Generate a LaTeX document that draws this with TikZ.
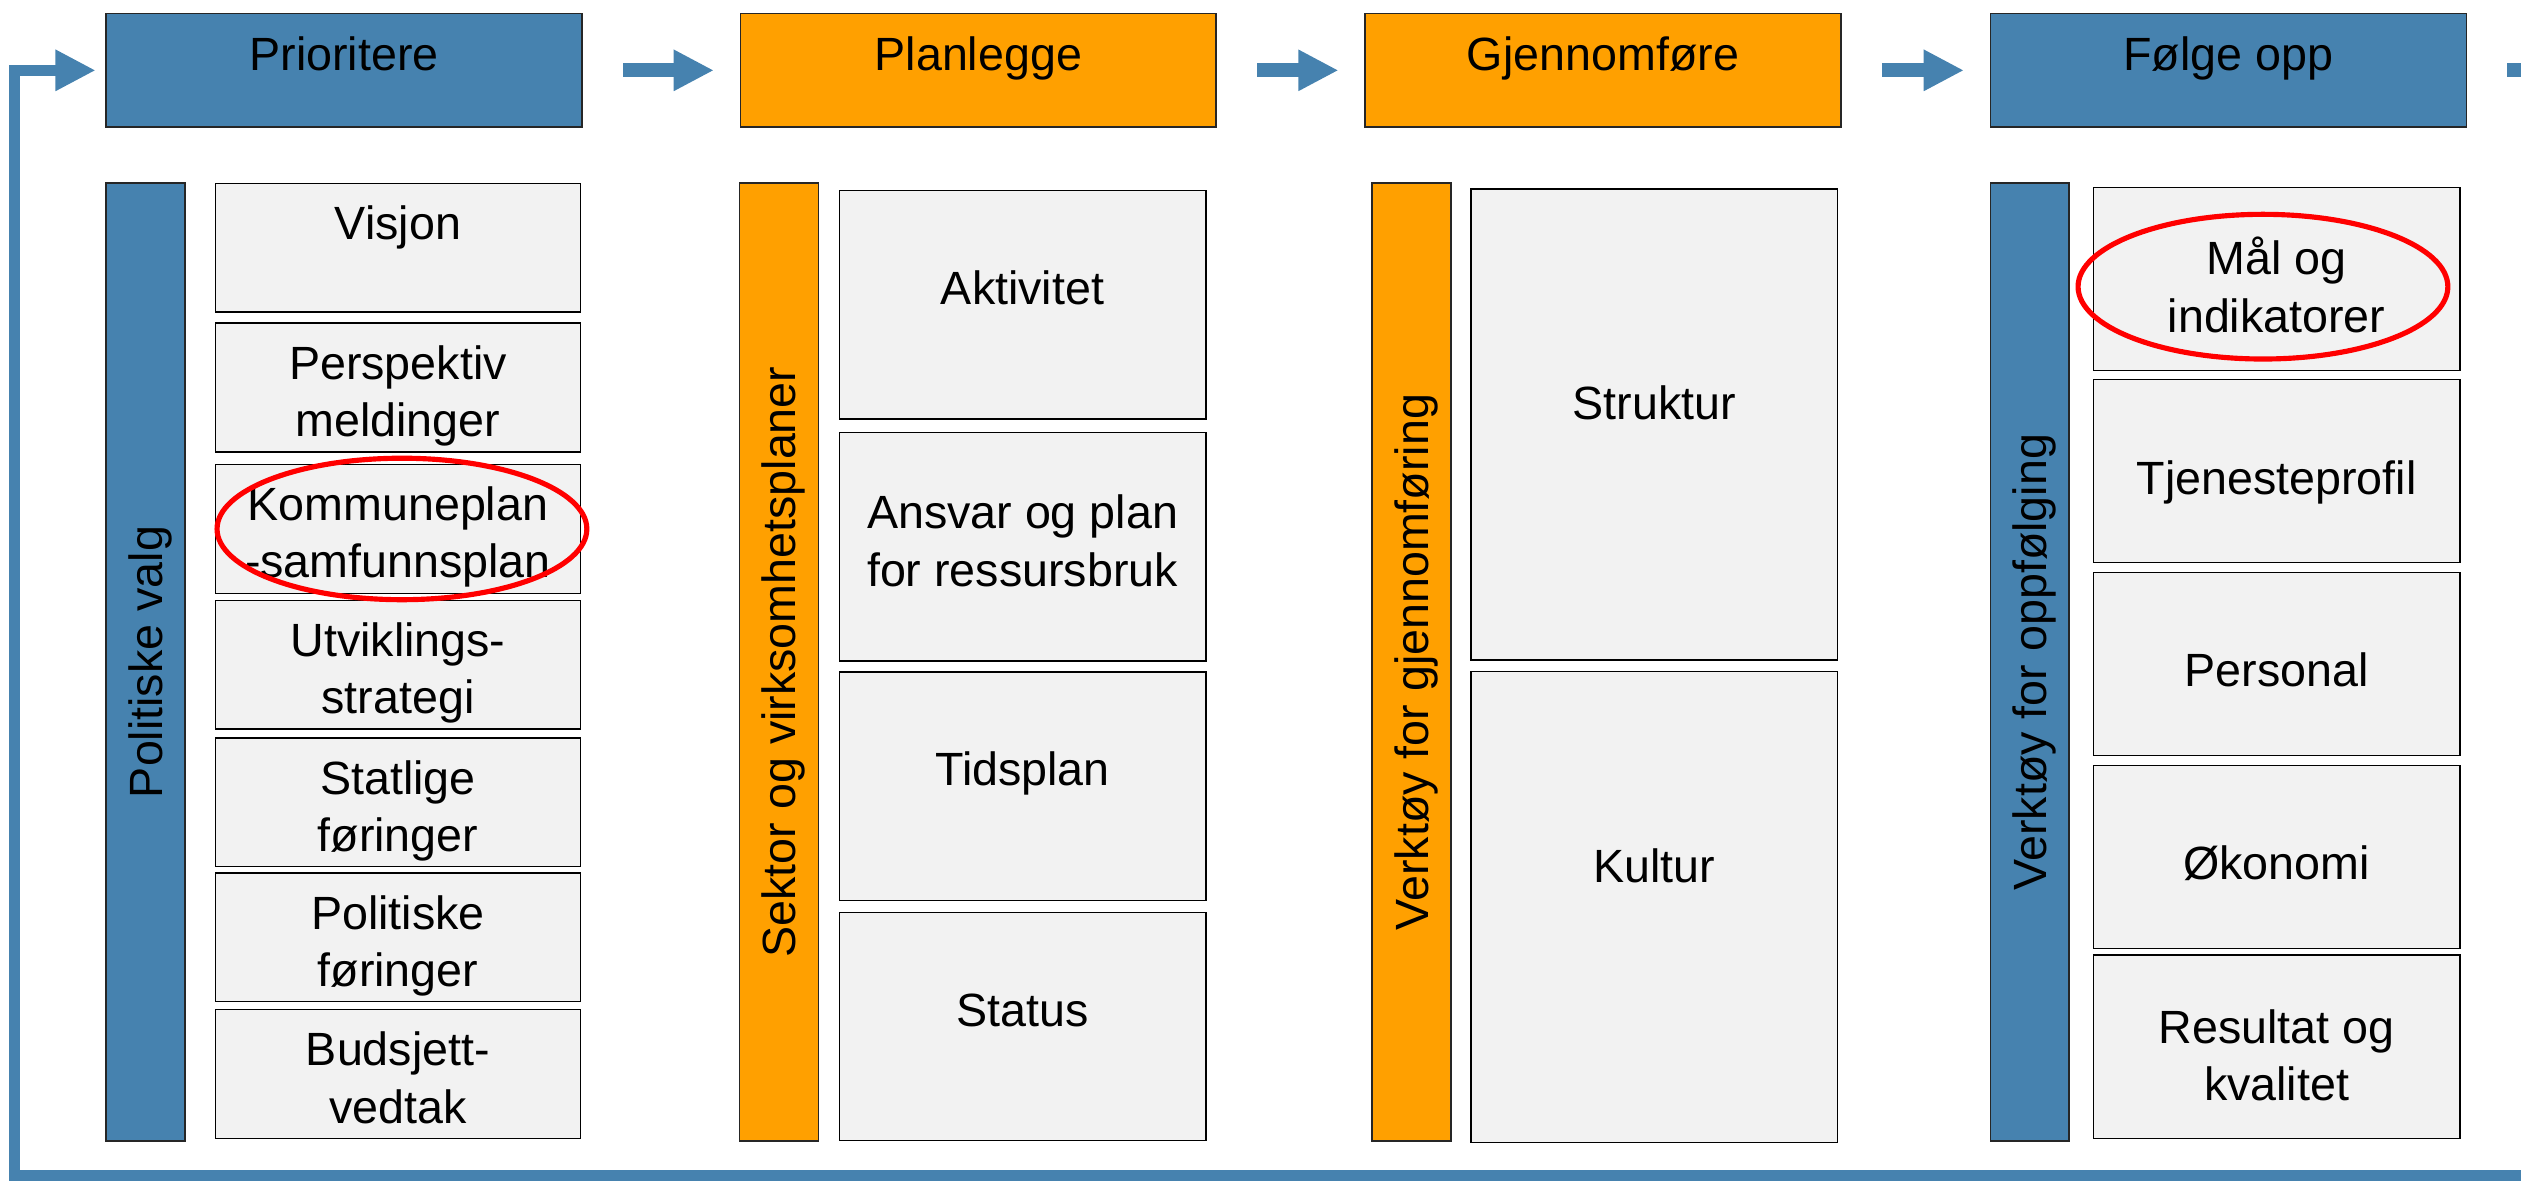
\documentclass[tikz,border=0pt]{standalone}
\usepackage{fontspec}
\setmainfont{Liberation Sans}
\usetikzlibrary{arrows.meta}
\definecolor{stblue}{RGB}{70,130,175}
\definecolor{orng}{RGB}{255,160,0}
\definecolor{lgray}{RGB}{242,242,242}
\begin{document}
\begin{tikzpicture}[x=1pt,y=-1pt,
  font=\fontsize{29}{35.5}\selectfont,
  head/.style={draw=black!85, line width=1pt, minimum width=296pt, minimum height=70.5pt, inner sep=0pt, text height=30pt, text depth=30pt},
  bar/.style={draw=black!85, line width=1pt, rotate=90, minimum width=595.5pt, minimum height=49pt, inner sep=0pt, text depth=0pt},
  bl/.style={text depth=#1},
  ml/.style={text height=#1, text depth=5pt},
  box/.style={draw=black, line width=0.9pt, fill=lgray, align=center, inner sep=2pt, text height=30pt, bl=30pt},
  c1/.style={box, minimum width=227pt, minimum height=80pt, bl=40pt},
  c2/.style={box, minimum width=228pt, minimum height=142pt},
  c3/.style={box, minimum width=228pt, minimum height=293pt},
  c4/.style={box, minimum width=228pt, minimum height=114pt},
  flow/.style={draw=stblue, line width=8.7pt, -{Triangle[length=25pt,width=24pt]}},
  retur/.style={draw=stblue, line width=7pt, -{Triangle[length=25pt,width=24pt]}},
  ring/.style={draw=red, line width=3.2pt}]
\useasboundingbox (0,0) rectangle (1568,735);
\clip (0,0) rectangle (1568,735);
\node[head, fill=stblue] (prio) at (214,43.75) {Prioritere};
\node[head, fill=orng] (plan) at (608.5,43.75) {Planlegge};
\node[head, fill=orng] (gjen) at (997,43.75) {Gjennomføre};
\node[head, fill=stblue] (folg) at (1386,43.75) {Følge opp};
\coordinate (edge) at (1620,43.75);
\draw[flow] ([xshift=25pt]prio.east) -- ([xshift=-16pt]plan.west);
\draw[flow] ([xshift=25pt]plan.east) -- ([xshift=-16pt]gjen.west);
\draw[flow] ([xshift=25pt]gjen.east) -- ([xshift=-16pt]folg.west);
\draw[flow] ([xshift=25pt]folg.east) -- (edge);
\coordinate (loopin) at (1600,731);
\coordinate (lowleft) at (9,731);
\draw[retur] (loopin) -- (lowleft) |- ([xshift=-6pt]prio.west);
\node[bar, fill=stblue] (pval) at (90.5,411.75) {Politiske valg};
\node[c1] (visj) at (247.5,154) {Visjon};
\node[c1, ml=66pt] (persp) at (247.5,241) {Perspektiv\\meldinger};
\node[c1, ml=66pt] (kplan) at (247.5,329) {Kommuneplan\\-samfunnsplan};
\node[c1, ml=66pt] (utvk) at (247.5,413.5) {Utviklings-\\strategi};
\node[c1, ml=66pt] (statl) at (247.5,499) {Statlige\\føringer};
\node[c1, ml=66pt] (polf) at (247.5,583) {Politiske\\føringer};
\node[c1, ml=66pt] (budsj) at (247.5,668) {Budsjett-\\vedtak};
\draw[ring] ([xshift=2.5pt]kplan.center) ellipse [x radius=115pt, y radius=44pt];
\node[bar, fill=orng] (sekt) at (484.5,411.75) {Sektor og virksomhetsplaner};
\node[c2] (akt) at (636,189.5) {Aktivitet};
\node[c2, ml=54pt] (ansv) at (636,340) {Ansvar og plan\\for ressursbruk};
\node[c2, bl=31pt] (tids) at (636,489) {Tidsplan};
\node[c2] (stat) at (636,638.5) {Status};
\node[bar, fill=orng] (vgjen) at (878,411.75) {Verktøy for gjennomføring};
\node[c3, bl=36pt] (strk) at (1029,264) {Struktur};
\node[c3, bl=60pt] (kult) at (1029,564) {Kultur};
\node[bar, fill=stblue] (vopp) at (1262.5,411.75) {Verktøy for oppfølging};
\node[c4, ml=71pt] (maal) at (1416,173.5) {Mål og\\indikatorer};
\node[c4, bl=1pt] (tjen) at (1416,293) {Tjenesteprofil};
\node[c4, bl=2pt] (psnl) at (1416,413) {Personal};
\node[c4, bl=2pt] (okon) at (1416,533) {Økonomi};
\node[c4, ml=72pt] (resk) at (1416,651) {Resultat og\\kvalitet};
\draw[ring] ([xshift=-8.5pt,yshift=-4.8pt]maal.center) ellipse [x radius=115pt, y radius=45pt];
\end{tikzpicture}
\end{document}
